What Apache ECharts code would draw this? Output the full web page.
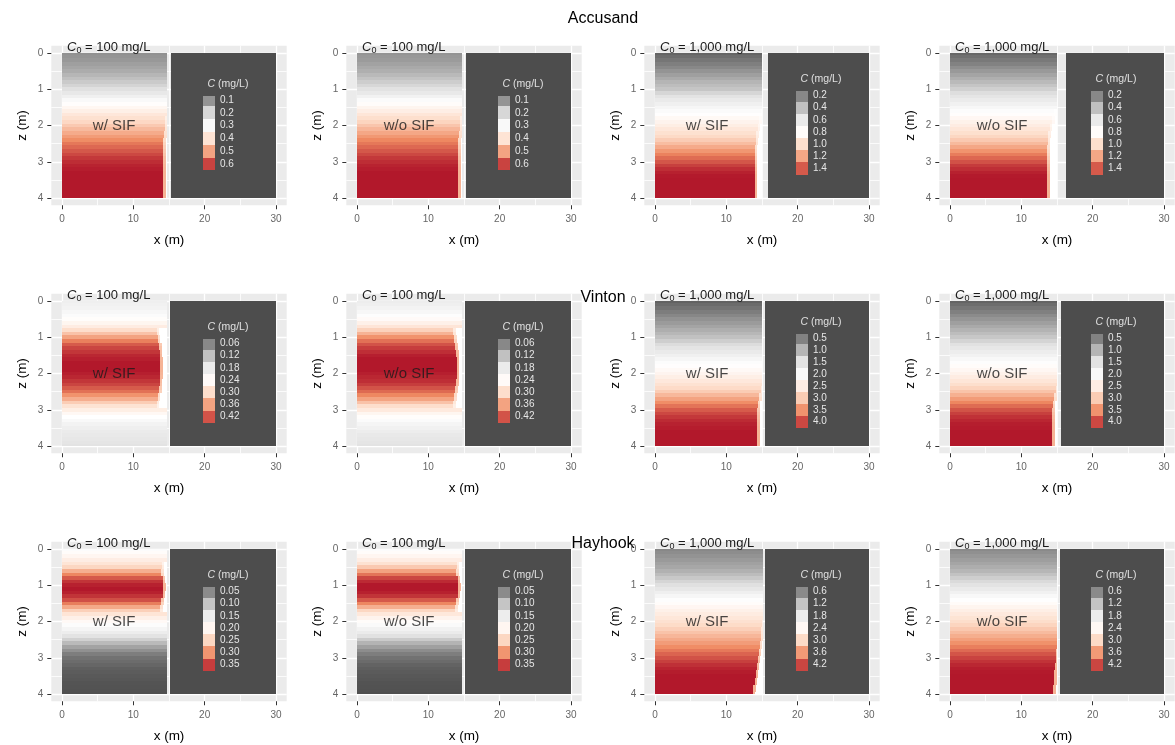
<!DOCTYPE html>
<html>
<head>
<meta charset="utf-8">
<script src="https://cdn.jsdelivr.net/npm/echarts@6/dist/echarts.min.js"></script>
<style>
  html, body { margin: 0; padding: 0; background: #ffffff; }
  #chart { width: 1175px; height: 745px; }
</style>
</head>
<body>
<div id="chart"></div>
<script>
// ---- facets ----
const sites = ['Accusand', 'Vinton', 'Hayhook'];
const sourceLabels = ['100 mg/L', '100 mg/L', '1,000 mg/L', '1,000 mg/L'];
const caseLabels = ['w/ SIF', 'w/o SIF', 'w/ SIF', 'w/o SIF'];

// ---- axis ticks ----
const xTicks = [0, 10, 20, 30];
const zTicks = [0, 1, 2, 3, 4];
const xMinorLines = [5, 15, 25];
const zMinorLines = [0.5, 1.5, 2.5, 3.5];

// ---- colour-bar labels ----
const legendAccusand100 = ['0.1', '0.2', '0.3', '0.4', '0.5', '0.6'];
const legendAccusand1000 = ['0.2', '0.4', '0.6', '0.8', '1.0', '1.2', '1.4'];
const legendVinton100 = ['0.06', '0.12', '0.18', '0.24', '0.30', '0.36', '0.42'];
const legendVinton1000 = ['0.5', '1.0', '1.5', '2.0', '2.5', '3.0', '3.5', '4.0'];
const legendHayhook100 = ['0.05', '0.10', '0.15', '0.20', '0.25', '0.30', '0.35'];
const legendHayhook1000 = ['0.6', '1.2', '1.8', '2.4', '3.0', '3.6', '4.2'];

// upper end of each panel's colour scale (mg/L)
const colorMax = [0.64, 0.64, 1.55, 1.55, 0.46, 0.46, 4.3, 4.3, 0.37, 0.37, 4.5, 4.5];

// ---- vertical concentration profiles, z = 0, 0.1, ..., 4.0 m (mg/L) ----
const accusandSif100 = [0.095,0.10,0.105,0.115,0.125,0.135,0.15,0.165,0.18,0.195,
  0.215,0.24,0.27,0.30,0.325,0.345,0.365,0.39,0.41,0.43,
  0.45,0.47,0.49,0.51,0.53,0.55,0.565,0.58,0.595,0.61,
  0.62,0.63,0.635,0.64,0.64,0.64,0.64,0.64,0.64,0.64,0.64];
const accusandNoSif100 = [0.10,0.105,0.11,0.12,0.13,0.14,0.155,0.17,0.185,0.20,
  0.22,0.245,0.275,0.305,0.33,0.35,0.37,0.395,0.415,0.435,
  0.455,0.475,0.495,0.515,0.535,0.55,0.565,0.58,0.595,0.61,
  0.62,0.63,0.635,0.64,0.64,0.64,0.64,0.64,0.64,0.64,0.64];
const accusandSif1000 = [0.08,0.11,0.14,0.17,0.20,0.24,0.28,0.32,0.36,0.39,
  0.42,0.48,0.54,0.60,0.65,0.70,0.74,0.78,0.82,0.86,
  0.90,0.945,0.99,1.035,1.08,1.13,1.19,1.25,1.31,1.36,
  1.41,1.46,1.50,1.53,1.545,1.55,1.55,1.55,1.55,1.55,1.55];
const accusandNoSif1000 = [0.09,0.12,0.15,0.18,0.22,0.26,0.30,0.34,0.38,0.42,
  0.46,0.51,0.56,0.61,0.66,0.71,0.75,0.79,0.83,0.87,
  0.91,0.955,1.0,1.045,1.09,1.14,1.20,1.26,1.32,1.37,
  1.42,1.47,1.50,1.53,1.545,1.55,1.55,1.55,1.55,1.55,1.55];
const vintonSif100 = [0.19,0.195,0.20,0.21,0.22,0.235,0.25,0.27,0.30,0.33,
  0.36,0.39,0.415,0.43,0.44,0.45,0.455,0.46,0.46,0.46,
  0.455,0.45,0.44,0.43,0.415,0.40,0.375,0.35,0.32,0.29,
  0.265,0.245,0.23,0.215,0.20,0.19,0.18,0.175,0.17,0.165,0.16];
const vintonNoSif100 = [0.185,0.19,0.20,0.21,0.225,0.24,0.26,0.285,0.315,0.345,
  0.375,0.40,0.42,0.435,0.445,0.455,0.46,0.46,0.46,0.46,
  0.455,0.45,0.445,0.435,0.42,0.405,0.385,0.36,0.33,0.30,
  0.275,0.25,0.235,0.22,0.205,0.195,0.185,0.175,0.17,0.165,0.16];
const vintonSif1000 = [0.2,0.28,0.36,0.45,0.55,0.65,0.74,0.83,0.93,1.02,
  1.12,1.25,1.39,1.53,1.67,1.80,1.94,2.08,2.18,2.27,
  2.36,2.47,2.60,2.73,2.86,3.0,3.18,3.36,3.55,3.72,
  3.88,4.0,4.1,4.18,4.24,4.27,4.3,4.3,4.3,4.3,4.3];
const vintonNoSif1000 = [0.22,0.3,0.39,0.48,0.58,0.68,0.78,0.88,0.98,1.08,
  1.18,1.31,1.45,1.59,1.73,1.86,1.99,2.11,2.21,2.30,
  2.40,2.52,2.65,2.79,2.93,3.08,3.25,3.43,3.61,3.78,
  3.93,4.05,4.14,4.21,4.26,4.28,4.3,4.3,4.3,4.3,4.3];
const hayhookSif100 = [0.18,0.19,0.20,0.215,0.23,0.25,0.28,0.31,0.335,0.355,
  0.365,0.37,0.365,0.355,0.34,0.315,0.285,0.255,0.23,0.21,
  0.195,0.18,0.165,0.15,0.13,0.11,0.09,0.07,0.055,0.04,
  0.03,0.025,0.02,0.015,0.012,0.01,0.008,0.006,0.005,0.004,0.003];
const hayhookNoSif100 = [0.18,0.19,0.20,0.215,0.235,0.26,0.29,0.32,0.345,0.36,
  0.37,0.37,0.365,0.355,0.335,0.31,0.28,0.25,0.225,0.205,
  0.19,0.175,0.16,0.145,0.125,0.105,0.085,0.068,0.052,0.04,
  0.03,0.024,0.018,0.014,0.011,0.009,0.007,0.005,0.004,0.003,0.002];
const hayhookSif1000 = [0.58,0.63,0.69,0.76,0.83,0.9,1.0,1.12,1.25,1.38,
  1.5,1.68,1.86,2.04,2.2,2.32,2.43,2.54,2.65,2.76,
  2.87,2.98,3.1,3.22,3.34,3.46,3.58,3.72,3.86,4.0,
  4.12,4.24,4.34,4.42,4.47,4.5,4.5,4.5,4.5,4.5,4.5];
const hayhookNoSif1000 = [0.6,0.66,0.73,0.8,0.88,0.96,1.06,1.18,1.31,1.44,
  1.57,1.74,1.91,2.07,2.22,2.34,2.46,2.58,2.7,2.82,
  2.94,3.06,3.18,3.3,3.42,3.55,3.68,3.82,3.96,4.1,
  4.22,4.32,4.4,4.46,4.49,4.5,4.5,4.5,4.5,4.5,4.5];

// ---- downstream reach of the plume per depth, z = 0, 0.2, ..., 4.0 m (x in m) ----
const rimAccusandSif100 = [14.7,14.7,14.7,14.7,14.7,14.7,14.7,14.7,14.7,14.5,14.4,14.3,14.2,14.2,14.2,14.2,14.2,14.2,14.2,14.2,14.2];
const rimAccusandNoSif100 = [14.7,14.7,14.7,14.7,14.7,14.7,14.7,14.7,14.7,14.5,14.4,14.3,14.2,14.2,14.2,14.2,14.2,14.2,14.2,14.2,14.2];
const rimAccusandSif1000 = [15.0,15.0,15.0,15.0,15.0,15.0,15.0,15.0,14.8,14.6,14.4,14.2,14.1,14.0,14.0,14.0,14.0,14.0,14.0,14.0,14.0];
const rimAccusandNoSif1000 = [14.95,14.95,14.95,14.95,14.95,14.95,14.95,14.95,14.6,14.3,14.0,13.8,13.7,13.6,13.6,13.6,13.6,13.6,13.6,13.6,13.6];
const rimVintonSif100 = [14.7,14.7,14.7,14.7,13.3,13.4,13.6,13.7,13.8,13.8,13.8,13.7,13.6,13.4,13.3,14.7,14.7,14.7,14.7,14.7,14.7];
const rimVintonNoSif100 = [14.7,14.7,14.7,14.7,13.5,13.6,13.8,13.9,14.0,14.0,14.0,13.9,13.8,13.6,13.5,14.7,14.7,14.7,14.7,14.7,14.7];
const rimVintonSif1000 = [15.0,15.0,15.0,15.0,15.0,15.0,15.0,15.0,15.0,15.0,15.0,15.0,14.8,14.6,14.4,14.3,14.3,14.3,14.3,14.3,14.3];
const rimVintonNoSif1000 = [15.0,15.0,15.0,15.0,15.0,15.0,15.0,15.0,15.0,15.0,15.0,15.0,14.8,14.6,14.4,14.3,14.3,14.3,14.3,14.3,14.3];
const rimHayhookSif100 = [14.7,14.7,14.0,13.9,14.1,14.2,14.1,13.9,13.8,14.7,14.7,14.7,14.7,14.7,14.7,14.7,14.7,14.7,14.7,14.7,14.7];
const rimHayhookNoSif100 = [14.7,14.7,14.0,13.9,14.1,14.2,14.1,13.9,13.8,14.7,14.7,14.7,14.7,14.7,14.7,14.7,14.7,14.7,14.7,14.7,14.7];
const rimHayhookSif1000 = [15.1,15.1,15.1,15.1,15.1,15.1,15.1,15.1,15.1,15.1,15.0,14.9,14.8,14.7,14.55,14.4,14.25,14.1,13.95,13.8,13.7];
const rimHayhookNoSif1000 = [15.0,15.0,15.0,15.0,15.0,15.0,15.0,15.0,15.0,15.0,15.0,15.0,15.0,15.0,14.9,14.8,14.7,14.6,14.6,14.5,14.5];

// end of the modelled plume and start of the clean zone (x in m)
const plumeEnd = [14.7, 14.7, 15.0, 14.95, 14.7, 14.7, 15.0, 15.0, 14.7, 14.7, 15.1, 15.0];
const cleanStart = [15.3, 15.3, 15.9, 16.3, 15.2, 15.2, 15.4, 15.5, 15.2, 15.2, 15.4, 15.4];

const profiles = [accusandSif100, accusandNoSif100, accusandSif1000, accusandNoSif1000,
  vintonSif100, vintonNoSif100, vintonSif1000, vintonNoSif1000,
  hayhookSif100, hayhookNoSif100, hayhookSif1000, hayhookNoSif1000];
const rims = [rimAccusandSif100, rimAccusandNoSif100, rimAccusandSif1000, rimAccusandNoSif1000,
  rimVintonSif100, rimVintonNoSif100, rimVintonSif1000, rimVintonNoSif1000,
  rimHayhookSif100, rimHayhookNoSif100, rimHayhookSif1000, rimHayhookNoSif1000];
const legendLabels = [legendAccusand100, legendAccusand100, legendAccusand1000, legendAccusand1000,
  legendVinton100, legendVinton100, legendVinton1000, legendVinton1000,
  legendHayhook100, legendHayhook100, legendHayhook1000, legendHayhook1000];

// ---- layout (pixels) ----
const FONT = '"Liberation Sans", Arial, Helvetica, sans-serif';
const PALETTE = ['#4d4d4d', '#999999', '#e0e0e0', '#ffffff', '#fddbc7', '#ef8a62', '#b2182b'];
const colX0 = [62, 357, 655, 950];
const rowY0 = [53, 301, 549];
const DATA_W = 214, DATA_H = 145;
const X_PAD = 1.5, Z_PAD = 0.2;
const Z_STEP = 0.1;
const titleY = [19, 298, 544];

// filled rectangle between two data corners, snapped to whole pixels so rows butt cleanly
function renderTile(params, api) {
  const a = api.coord([api.value(0), api.value(2)]);
  const b = api.coord([api.value(1), api.value(3)]);
  const xa = Math.round(Math.min(a[0], b[0])), xb = Math.round(Math.max(a[0], b[0]));
  const ya = Math.round(Math.min(a[1], b[1])), yb = Math.round(Math.max(a[1], b[1]));
  return {
    type: 'rect',
    shape: { x: xa, y: ya, width: xb - xa, height: yb - ya },
    style: { fill: api.visual('color') }
  };
}

function panelTiles(i) {
  const prof = profiles[i];
  const rim = rims[i];
  const whiteLevel = colorMax[i] / 2;
  const out = [];
  for (let k = 0; k < prof.length; k++) {
    const zc = k * Z_STEP;
    const z0 = Math.max(0, zc - Z_STEP / 2);
    const z1 = Math.min(4, zc + Z_STEP / 2);
    const r = rim[Math.floor(k / 2)];
    const end = plumeEnd[i];
    out.push([0, r, z0, z1, prof[k]]);
    if (r < end) {
      const mid = Math.min(end, r + 0.35);
      out.push([r, mid, z0, z1, (prof[k] + whiteLevel) / 2]);
      if (mid < end) out.push([mid, end, z0, z1, whiteLevel]);
    }
  }
  out.push([cleanStart[i], 30, 0, 4, 0]);
  return out;
}

const grid = [], xAxis = [], yAxis = [], series = [], visualMap = [], graphic = [];
const tickColor = '#333333';
const tickLabel = { color: '#666666', fontSize: 10, fontFamily: FONT };

sites.forEach(function (site, r) {
  graphic.push({
    type: 'text', x: 603, y: titleY[r], silent: true,
    style: { text: site, fill: '#000000', font: '16px ' + FONT, align: 'center', verticalAlign: 'middle' }
  });
});

for (let r = 0; r < 3; r++) {
  for (let c = 0; c < 4; c++) {
    const i = r * 4 + c;
    const x0 = colX0[c], y0 = rowY0[r];
    const pxX = DATA_W / 30, pxZ = DATA_H / 4;

    // panel
    const g = grid.length;
    grid.push({
      left: x0 - X_PAD * pxX, top: y0 - Z_PAD * pxZ,
      width: DATA_W + 2 * X_PAD * pxX, height: DATA_H + 2 * Z_PAD * pxZ,
      show: true, backgroundColor: '#ebebeb', borderWidth: 0, outerBoundsMode: 'none'
    });
    const xMain = xAxis.length;
    xAxis.push({
      gridIndex: g, type: 'value', min: -X_PAD, max: 30 + X_PAD, position: 'bottom',
      axisLine: { show: false, onZero: false },
      axisTick: { show: true, customValues: xTicks, length: 4, lineStyle: { color: tickColor, width: 1 } },
      axisLabel: Object.assign({ customValues: xTicks, margin: 9 }, tickLabel),
      splitLine: { show: true, lineStyle: { color: '#ffffff', width: 1.3 } },
      name: 'x (m)', nameLocation: 'middle', nameGap: 28,
      nameTextStyle: { fontSize: 13.5, color: '#000000', fontFamily: FONT }
    });
    xAxis.push({
      gridIndex: g, type: 'value', min: -X_PAD, max: 30 + X_PAD, position: 'top',
      axisLine: { show: false, onZero: false }, axisLabel: { show: false },
      axisTick: { show: false, customValues: xMinorLines },
      splitLine: { show: true, lineStyle: { color: '#ffffff', width: 0.8 } }
    });
    const yMain = yAxis.length;
    yAxis.push({
      gridIndex: g, type: 'value', min: -Z_PAD, max: 4 + Z_PAD, inverse: true, position: 'left',
      axisLine: { show: false, onZero: false },
      axisTick: { show: true, customValues: zTicks, length: 4, lineStyle: { color: tickColor, width: 1 } },
      axisLabel: Object.assign({ customValues: zTicks, margin: 8 }, tickLabel),
      splitLine: { show: true, lineStyle: { color: '#ffffff', width: 1.3 } },
      name: 'z (m)', nameLocation: 'middle', nameGap: 22, nameRotate: 90,
      nameTextStyle: { fontSize: 13.5, color: '#000000', fontFamily: FONT }
    });
    yAxis.push({
      gridIndex: g, type: 'value', min: -Z_PAD, max: 4 + Z_PAD, inverse: true, position: 'right',
      axisLine: { show: false, onZero: false }, axisLabel: { show: false },
      axisTick: { show: false, customValues: zMinorLines },
      splitLine: { show: true, lineStyle: { color: '#ffffff', width: 0.8 } }
    });

    const tileSeries = series.length;
    series.push({
      type: 'custom', xAxisIndex: xMain, yAxisIndex: yMain,
      renderItem: renderTile, data: panelTiles(i),
      encode: { x: [0, 1], y: [2, 3] }, silent: true, z: 2
    });
    series.push({
      type: 'scatter', xAxisIndex: xMain, yAxisIndex: yMain,
      data: [[7.3, 2.0]], symbolSize: 0, silent: true, z: 5,
      label: { show: true, position: 'inside', formatter: caseLabels[c],
        fontSize: 15, color: '#1a1a1a', fontFamily: FONT }
    });

    // source-strength caption
    graphic.push({
      type: 'text', x: x0 + 5, y: y0 - 6, silent: true, z: 10,
      style: {
        text: '{c|C}{s|0}{n| = ' + sourceLabels[c] + '}',
        align: 'left', verticalAlign: 'middle',
        rich: {
          c: { fontSize: 13, fontStyle: 'italic', fontFamily: FONT, fill: '#1a1a1a', lineHeight: 16 },
          s: { fontSize: 9, fontFamily: FONT, fill: '#1a1a1a', lineHeight: 9, verticalAlign: 'bottom' },
          n: { fontSize: 13, fontFamily: FONT, fill: '#1a1a1a', lineHeight: 16 }
        }
      }
    });

    // colour bar
    const labels = legendLabels[i];
    const ticks = labels.map(Number);
    const n = ticks.length;
    const d = ticks[1] - ticks[0];
    const stepPx = n === 8 ? 11.9 : ((r === 0 && c < 2) ? 12.8 : 12.2);
    const firstLabelY = y0 + 79 - (n - 1) / 2 * stepPx;
    const lg = grid.length;
    grid.push({
      left: x0 + 141, width: 12,
      top: firstLabelY - 0.35 * stepPx,
      height: (n - 1 + 0.85) * stepPx,
      show: false, outerBoundsMode: 'none'
    });
    const lo = ticks[0] - 0.35 * d, hi = ticks[n - 1] + 0.5 * d;
    const lx = xAxis.length;
    xAxis.push({ gridIndex: lg, type: 'value', min: 0, max: 1, show: false });
    const ly = yAxis.length;
    yAxis.push({
      gridIndex: lg, type: 'value', min: lo, max: hi, inverse: true, position: 'right', z: 20,
      axisLine: { show: false, onZero: false }, axisTick: { show: false, customValues: ticks },
      splitLine: { show: false },
      axisLabel: {
        customValues: ticks, margin: 5, color: '#e6e6e6', fontSize: 10, fontFamily: FONT,
        formatter: function (v) {
          for (let j = 0; j < n; j++) if (Math.abs(ticks[j] - v) < 1e-9) return labels[j];
          return '';
        }
      }
    });
    const bands = ticks.map(function (t) {
      return [0, 1, Math.max(lo, t - d / 2), Math.min(hi, t + d / 2), t];
    });
    const legendSeries = series.length;
    series.push({
      type: 'custom', xAxisIndex: lx, yAxisIndex: ly,
      renderItem: renderTile, data: bands,
      encode: { x: [0, 1], y: [2, 3] }, silent: true, z: 6
    });
    graphic.push({
      type: 'text', x: x0 + 166, y: firstLabelY - 16, silent: true, z: 10,
      style: {
        text: '{c|C}{n| (mg/L)}', align: 'center', verticalAlign: 'middle',
        rich: {
          c: { fontSize: 10.5, fontStyle: 'italic', fontFamily: FONT, fill: '#e0e0e0' },
          n: { fontSize: 10.5, fontFamily: FONT, fill: '#e0e0e0' }
        }
      }
    });

    visualMap.push({
      type: 'continuous', show: false, dimension: 4,
      seriesIndex: [tileSeries, legendSeries],
      min: 0, max: colorMax[i],
      inRange: { color: PALETTE }
    });
  }
}

const chart = echarts.init(document.getElementById('chart'), null, { renderer: 'canvas' });
chart.setOption({
  animation: false,
  backgroundColor: '#ffffff',
  textStyle: { fontFamily: FONT },
  grid: grid, xAxis: xAxis, yAxis: yAxis,
  visualMap: visualMap, series: series, graphic: graphic
});
</script>
</body>
</html>
